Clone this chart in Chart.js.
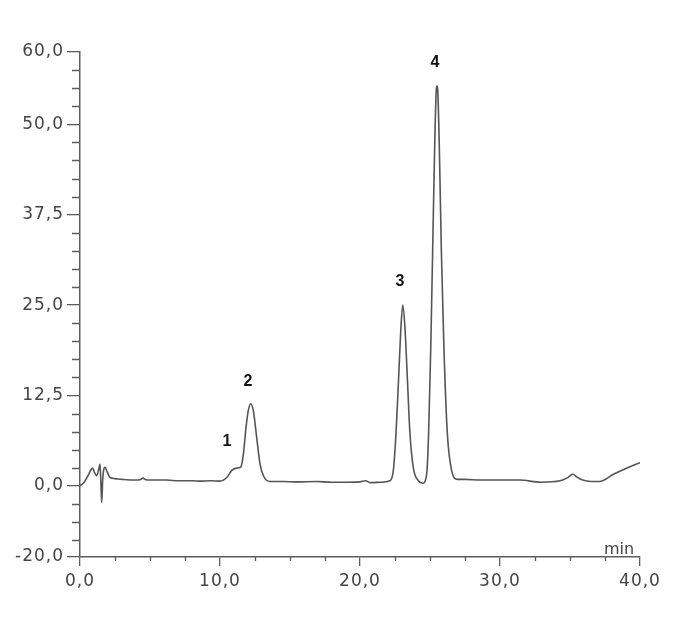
<!DOCTYPE html>
<html>
<head>
<meta charset="utf-8">
<script src="https://cdn.jsdelivr.net/npm/chart.js@4"></script>
<style>
  body { margin: 0; background: #fff; }
  canvas { display: block; }
</style>
</head>
<body>
<canvas id="chromatogram" width="675" height="634"></canvas>
<script>
// retention time (min) and detector signal
const retentionTime = [
  0.0, 0.3, 0.6, 0.88, 1.05, 1.19, 1.35, 1.43, 1.49, 1.55, 1.62, 1.7, 1.79, 1.95, 2.14,
  2.5, 3.0, 3.9, 4.3, 4.5, 4.7, 5.5, 6.2, 7.0, 8.0, 8.6, 9.3, 10.0,
  10.48, 10.83, 11.19, 11.48, 11.67, 11.86, 12.02, 12.19, 12.38, 12.62, 12.86, 13.1, 13.57,
  14.5, 15.5, 16.9, 18.0, 19.0, 20.0, 20.4, 20.7, 21.5,
  22.14, 22.38, 22.57, 22.74, 22.9, 23.05, 23.21, 23.38, 23.57, 23.81, 24.17, 24.48,
  24.76, 24.9, 25.05, 25.19, 25.33, 25.45, 25.5, 25.55, 25.67, 25.81, 26.0, 26.24, 26.55, 26.95,
  27.5, 28.6, 30.0, 31.4, 32.9, 34.3, 34.8, 35.2, 35.5, 35.9, 36.5, 37.1, 38.1, 39.0, 40.0
];
const signal = [
  0.0, 0.5, 1.5, 2.45, 1.8, 1.4, 2.4, 3.0, 0.5, -2.3, 0.8, 2.3, 2.55, 1.9, 1.15,
  1.0, 0.9, 0.8, 0.85, 1.07, 0.85, 0.8, 0.8, 0.7, 0.7, 0.65, 0.7, 0.65,
  1.15, 2.1, 2.45, 2.6, 4.4, 8.1, 10.4, 11.35, 10.4, 6.7, 3.0, 1.4, 0.6,
  0.6, 0.55, 0.6, 0.5, 0.5, 0.55, 0.7, 0.45, 0.5,
  0.7, 2.1, 7.2, 14.1, 21.0, 25.0, 21.9, 15.0, 7.2, 2.5, 0.7, 0.35,
  1.6, 7.2, 18.7, 32.6, 46.5, 54.8, 55.3, 54.8, 46.5, 32.6, 18.7, 7.2, 2.1, 0.9,
  0.9, 0.8, 0.8, 0.8, 0.5, 0.7, 1.1, 1.6, 1.2, 0.8, 0.6, 0.6, 1.6, 2.4, 3.2
];

// peak numbers and where they sit (time, signal)
const peakNames = ['1', '2', '3', '4'];
const peakLabelTime = [10.5, 12.0, 22.85, 25.35];
const peakLabelSignal = [6.1, 14.4, 28.3, 58.6];

// axis ticks; the lowest tick of the original is labelled -20,0 although it sits much closer to 0
const xTickValues = [0, 10, 20, 30, 40];
const xTickLabels = ['0,0', '10,0', '20,0', '30,0', '40,0'];
const yTickValues = [-9.84, 0, 12.5, 25, 37.5, 50, 60];
const yTickLabels = ['-20,0', '0,0', '12,5', '25,0', '37,5', '50,0', '60,0'];

const axisColor = '#5c5c5c';
const tickFont = { family: 'DejaVu Sans', size: 17 };

const points = retentionTime.map((t, i) => ({ x: t, y: signal[i] }));

const extras = {
  id: 'extras',
  beforeDraw(chart) {
    chart.ctx.letterSpacing = '1px';
  },
  afterDraw(chart) {
    const { ctx, scales: { x, y }, chartArea } = chart;
    ctx.save();
    ctx.letterSpacing = '0px';
    ctx.strokeStyle = axisColor;
    ctx.lineWidth = 1.3;
    ctx.beginPath();
    // minor ticks every 2.5
    for (let v = -7.5; v < 60; v += 2.5) {
      if (yTickValues.includes(v)) continue;
      const py = Math.round(y.getPixelForValue(v)) + 0.5;
      ctx.moveTo(chartArea.left - 8, py);
      ctx.lineTo(chartArea.left, py);
    }
    for (let t = 2.5; t < 40; t += 2.5) {
      if (xTickValues.includes(t)) continue;
      const px = Math.round(x.getPixelForValue(t)) + 0.5;
      ctx.moveTo(px, chartArea.bottom - 1);
      ctx.lineTo(px, chartArea.bottom + 4);
    }
    ctx.stroke();

    ctx.fillStyle = '#444';
    ctx.font = '16px "DejaVu Sans"';
    ctx.textAlign = 'center';
    ctx.textBaseline = 'alphabetic';
    ctx.fillText('min', x.getPixelForValue(38.5), chartArea.bottom - 3);

    ctx.fillStyle = '#111';
    ctx.font = 'bold 16px "Liberation Sans"';
    ctx.textBaseline = 'middle';
    peakNames.forEach((name, i) => {
      ctx.fillText(name, x.getPixelForValue(peakLabelTime[i]), y.getPixelForValue(peakLabelSignal[i]));
    });
    ctx.restore();
  }
};

new Chart(document.getElementById('chromatogram'), {
  type: 'line',
  data: {
    datasets: [{
      data: points,
      borderColor: '#555',
      borderWidth: 1.6,
      pointRadius: 0,
      fill: false,
      cubicInterpolationMode: 'monotone'
    }]
  },
  options: {
    responsive: false,
    animation: false,
    devicePixelRatio: 1,
    layout: { padding: { top: 52, right: 35, left: 0, bottom: 0 } },
    plugins: { legend: { display: false }, tooltip: { enabled: false } },
    scales: {
      x: {
        type: 'linear',
        min: 0,
        max: 40,
        afterBuildTicks: scale => { scale.ticks = xTickValues.map(v => ({ value: v })); },
        afterFit: scale => { scale.height = 77; },
        ticks: {
          callback: (v, i) => xTickLabels[i],
          color: '#444',
          font: tickFont,
          padding: 5,
          maxRotation: 0,
          autoSkip: false
        },
        grid: { drawOnChartArea: false, tickLength: 9, tickColor: axisColor, lineWidth: 1.3 },
        border: { color: axisColor, width: 1.5 }
      },
      y: {
        type: 'linear',
        min: yTickValues[0],
        max: 60,
        afterBuildTicks: scale => { scale.ticks = yTickValues.map(v => ({ value: v })); },
        afterFit: scale => { scale.width = 80; },
        ticks: {
          callback: (v, i) => yTickLabels[i],
          color: '#444',
          font: tickFont,
          padding: 3,
          autoSkip: false
        },
        grid: { drawOnChartArea: false, tickLength: 13, tickColor: axisColor, lineWidth: 1.3 },
        border: { color: axisColor, width: 1.5 }
      }
    }
  },
  plugins: [extras]
});
</script>
</body>
</html>
